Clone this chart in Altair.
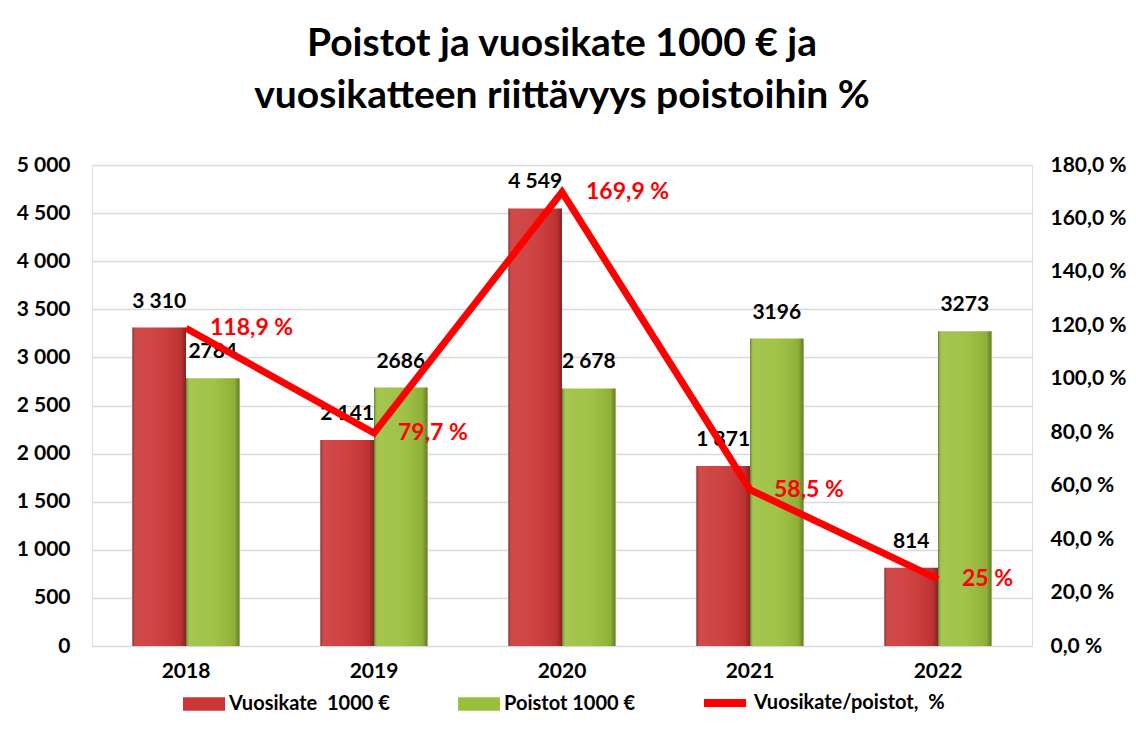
import altair as alt
import pandas as pd

years = ["2018", "2019", "2020", "2021", "2022"]
vuosikate = [3310, 2141, 4549, 1871, 814]
poistot = [2784, 2686, 2678, 3196, 3273]
pct = [118.9, 79.7, 169.9, 58.5, 25.0]
vuosikate_labels = ["3 310", "2 141", "4 549", "1 871", "814"]
poistot_labels = ["2784", "2686", "2 678", "3196", "3273"]
pct_labels = ["118,9 %", "79,7 %", "169,9 %", "58,5 %", "25 %"]

SER_V = "Vuosikate\u00a0 1000 €"
SER_P = "Poistot 1000 €"
LINE_NAME = "Vuosikate/poistot,\u00a0 %"

bars_df = pd.DataFrame({
    "year": years * 2,
    "series": [SER_V] * 5 + [SER_P] * 5,
    "value": vuosikate + poistot,
    "label": vuosikate_labels + poistot_labels,
})
line_df = pd.DataFrame({"year": years, "pct": pct, "label": pct_labels, "name": [LINE_NAME] * 5})

FONT = "Lato"
AX = 21

x = alt.X("year:N", title=None,
          scale=alt.Scale(paddingInner=0.43, paddingOuter=0.215),
          axis=alt.Axis(labelAngle=0, labelFontSize=AX, labelFontWeight="bold", labelColor="black",
                        labelPadding=14, domain=False, ticks=False, labelFont=FONT))
xoff = alt.XOffset("series:N", scale=alt.Scale(domain=[SER_V, SER_P]))
yL = alt.Y("value:Q", scale=alt.Scale(domain=[0, 5000], nice=False),
           axis=alt.Axis(title=None, values=list(range(0, 5001, 500)),
                         labelExpr="replace(format(datum.value, ','), regexp(',', 'g'), ' ')",
                         grid=True, gridColor="#d9d9d9", gridWidth=1.5, domain=False, ticks=False,
                         labelFontSize=AX, labelFontWeight="bold", labelColor="black", labelPadding=22,
                         labelFont=FONT))

bar_symbol = "M-1,-0.32H1V0.32H-1Z"

bars = alt.Chart(bars_df).mark_bar().encode(
    x=x, xOffset=xoff, y=yL,
    fill=alt.Fill("series:N", scale=alt.Scale(domain=[SER_V, SER_P], range=["#cc3636", "#9bbf3c"]),
                  legend=alt.Legend(title=None, orient="none", direction="horizontal",
                                    legendX=91, legendY=518, padding=0,
                                    symbolType=bar_symbol, symbolSize=1764, symbolStrokeWidth=0,
                                    labelFontSize=20, labelFont=FONT, labelFontWeight="bold",
                                    labelColor="black", columnPadding=68, labelOffset=4, labelLimit=0)),
)

gloss = alt.Chart(bars_df).mark_bar(
    fill=alt.Gradient(gradient="linear", x1=0, x2=1, y1=0, y2=0, stops=[
        alt.GradientStop(offset=0, color="rgba(0,0,0,0.35)"),
        alt.GradientStop(offset=0.07, color="rgba(255,255,255,0.10)"),
        alt.GradientStop(offset=0.5, color="rgba(255,255,255,0.06)"),
        alt.GradientStop(offset=0.9, color="rgba(0,0,0,0.08)"),
        alt.GradientStop(offset=1, color="rgba(0,0,0,0.35)"),
    ])
).encode(x=x, xOffset=xoff, y=yL)

bar_text = alt.Chart(bars_df).mark_text(dy=-26, baseline="middle", fontSize=21, fontWeight="bold",
                                        font=FONT, color="black").encode(
    x=x, xOffset=xoff, y=yL, text="label:N")

yR = alt.Y("pct:Q", scale=alt.Scale(domain=[0, 180], nice=False),
           axis=alt.Axis(title=None, orient="right", values=list(range(0, 181, 20)),
                         labelExpr="replace(format(datum.value, '.1f'), '.', ',') + ' %'",
                         grid=False, domain=False, ticks=False, labelFontSize=AX, labelFontWeight="bold",
                         labelColor="black", labelPadding=18, labelFont=FONT))

line = alt.Chart(line_df).mark_line(strokeWidth=7, strokeJoin="miter").encode(
    x=x, y=yR,
    stroke=alt.Stroke("name:N", scale=alt.Scale(domain=[LINE_NAME], range=["#ff0000"]),
                      legend=alt.Legend(title=None, orient="none", legendX=608, legendY=513, padding=0,
                                        symbolType="stroke", symbolSize=1764,
                                        symbolStrokeWidth=8, labelFontSize=20, labelFont=FONT,
                                        labelFontWeight="bold", labelColor="black", labelOffset=4,
                                        labelLimit=0)),
)
line_text = alt.Chart(line_df).mark_text(align="left", dx=24, baseline="middle", fontSize=23,
                                         fontWeight="bold", font=FONT, color="#ff0000").encode(
    x=x, y=yR, text="label:N")

left = alt.layer(bars, gloss, bar_text)
right = alt.layer(line, line_text)

chart = alt.layer(left, right).resolve_scale(y="independent").properties(
    width=940, height=481,
    autosize=alt.AutoSizeParams(type="none"),
    padding={"left": 84, "top": 157, "right": 96, "bottom": 82},
    title=alt.TitleParams(["Poistot ja vuosikate 1000 € ja", "vuosikatteen riittävyys poistoihin %"],
                          fontSize=39, font=FONT, fontWeight="bold", anchor="middle", lineHeight=52,
                          offset=38, color="black"),
).configure_view(stroke=None).configure(background="white")

chart.save("out.html", embed_options={"renderer": "svg", "actions": False})
